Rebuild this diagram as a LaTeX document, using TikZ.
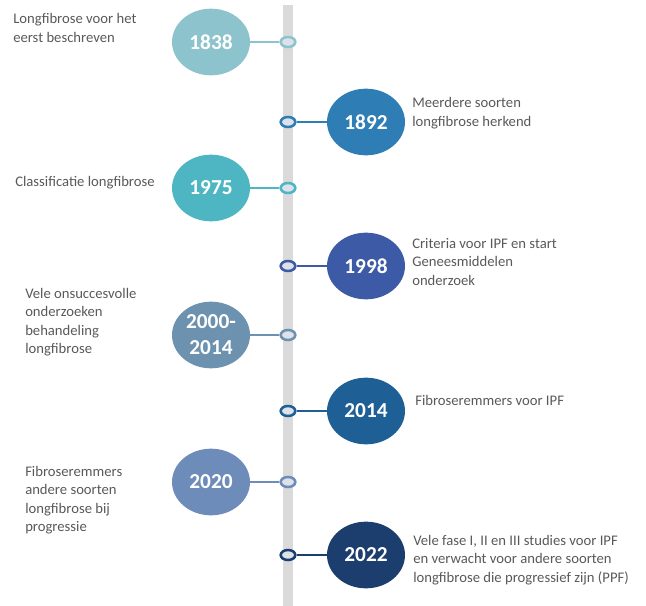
\documentclass[tikz,border=0pt]{standalone}
\usepackage{fontspec}
\setmainfont{Carlito}
\usetikzlibrary{shapes.geometric}
\definecolor{col1}{HTML}{8DC3CD}
\definecolor{col2}{HTML}{2E7DB5}
\definecolor{col3}{HTML}{4DB6C2}
\definecolor{col4}{HTML}{3C5AA5}
\definecolor{col5}{HTML}{6C92AF}
\definecolor{col6}{HTML}{1E5F96}
\definecolor{col7}{HTML}{6E8CB9}
\definecolor{col8}{HTML}{1C3E6E}
\definecolor{barcol}{HTML}{DADADA}
\definecolor{dotfill}{HTML}{DDE2EA}
\definecolor{notegray}{HTML}{595959}
\begin{document}
\begin{tikzpicture}
  [x=0.75pt, y=-0.75pt,
    every year/.style={
      ellipse,
      minimum width=58.5pt,
      minimum height=50pt,
      inner sep=0pt,
      text=white,
      align=center,
      font=\fontsize{16}{19.5}\selectfont\bfseries
    },
    year dot/.style={
      ellipse,
      draw,
      line width=1.9pt,
      fill=dotfill,
      minimum width=11pt,
      minimum height=7.5pt,
      inner sep=0pt
    },
    note/.style={
      anchor=west,
      align=left,
      inner sep=0pt,
      text=notegray,
      font=\fontsize{11}{13.9}\selectfont
    },
  ]
\useasboundingbox (0,0) rectangle (646,606);

% Draw time bar
\fill [barcol] (283,5) rectangle (293,606);

% Draw year circles and dots
\foreach \yr/\x/\y [count=\i] in {1838/211/42, 1892/366/122, 1975/211/188,
    1998/366/266, {2000-\\2014}/211/335, 2014/366/411, 2020/211/482, 2022/366/555}
{
  \node [every year, fill=col\i] (year-\i) at (\x,\y) {\yr};
  \node [year dot, draw=col\i] (dot-\i) at (288,\y) {};
  \draw [col\i, line width=1.5pt] (dot-\i) -- (year-\i);
}

% Label the years
\foreach \t/\x/\y [count=\i] in {
    {Longfibrose voor het\\eerst beschreven}/13/28,
    {Meerdere soorten\\longfibrose herkend}/412/113,
    {Classificatie longfibrose}/15/183,
    {Criteria voor IPF en start\\Geneesmiddelen\\onderzoek}/412/262,
    {Vele onsuccesvolle\\onderzoeken\\behandeling\\longfibrose}/25/322,
    {Fibroseremmers voor IPF}/415/400,
    {Fibroseremmers\\andere soorten\\longfibrose bij\\progressie}/25/500,
    {Vele fase I, II en III studies voor IPF\\en verwacht voor andere soorten\\longfibrose die progressief zijn (PPF)}/413/560}
  \node [note] (note-\i) at (\x,\y) {\t};
\end{tikzpicture}
\end{document}
